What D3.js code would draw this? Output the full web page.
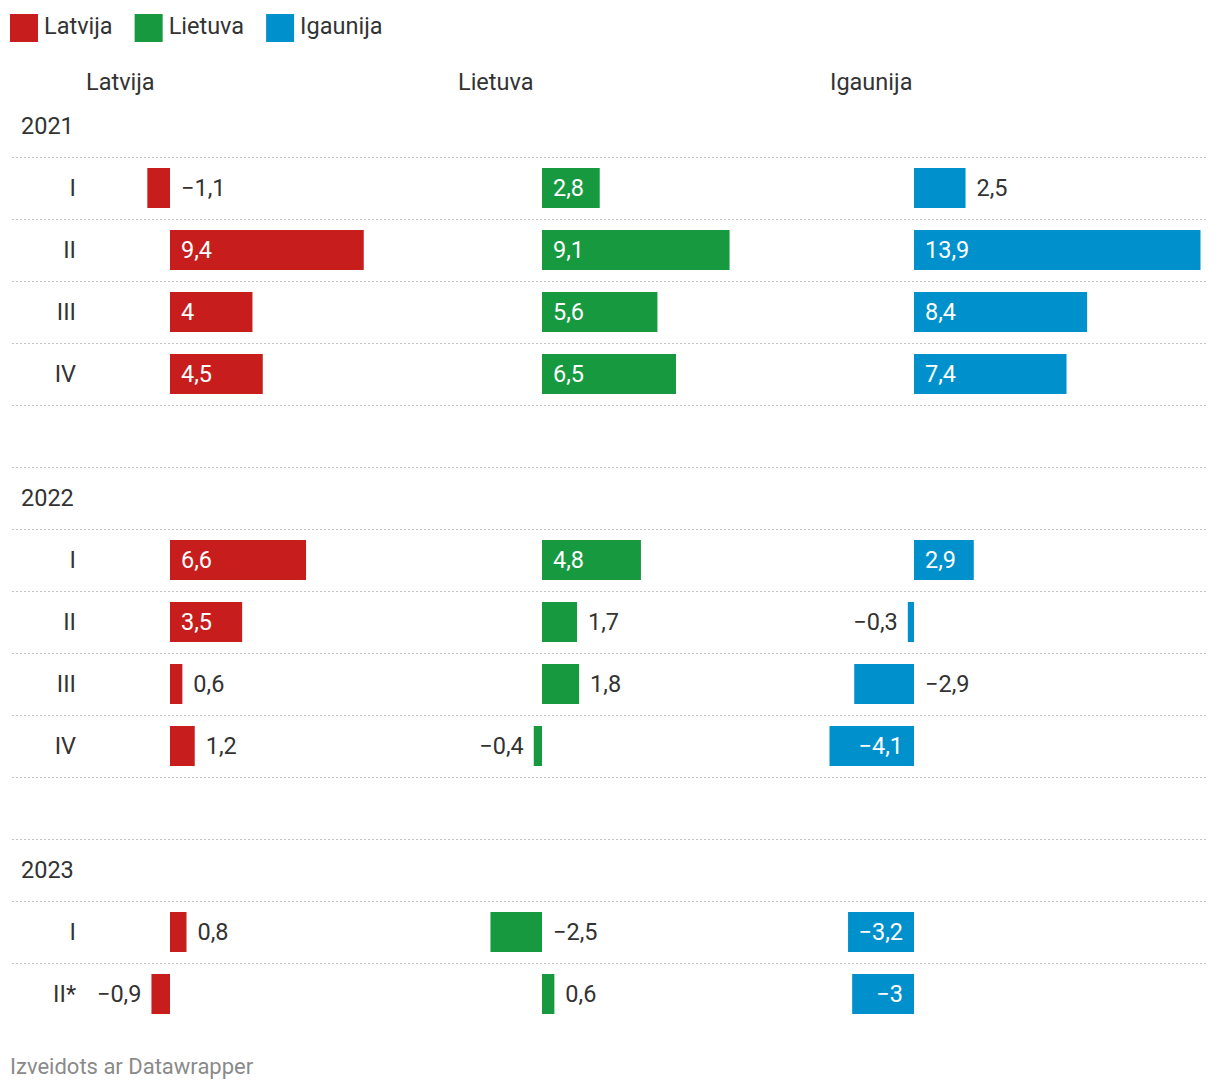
<!DOCTYPE html>
<html>
<head>
<meta charset="utf-8">
<script src="https://cdn.jsdelivr.net/npm/d3@7"></script>
<style>
  html, body { margin: 0; padding: 0; background: #fff; }
  svg { display: block; font-family: Roboto, "Noto Sans", sans-serif; }
</style>
</head>
<body>
<svg id="chart" width="1220" height="1092"></svg>
<script>
// ---- data ----
const countries = ["Latvija", "Lietuva", "Igaunija"];
const colors = ["#c71e1d", "#16993f", "#0091cc"];
const years = ["2021", "2022", "2023"];
const quarters = [["I", "II", "III", "IV"], ["I", "II", "III", "IV"], ["I", "II*"]];
const latvija  = [-1.1, 9.4, 4, 4.5, 6.6, 3.5, 0.6, 1.2, 0.8, -0.9];
const lietuva  = [2.8, 9.1, 5.6, 6.5, 4.8, 1.7, 1.8, -0.4, -2.5, 0.6];
const igaunija = [2.5, 13.9, 8.4, 7.4, 2.9, -0.3, -2.9, -4.1, -3.2, -3];
const footer = "Izveidots ar Datawrapper";

const series = [latvija, lietuva, igaunija];

const svg = d3.select("#chart");
const textColor = "#333";
const fs = 23.5;
const fmt = d3.formatLocale({decimal: ",", thousands: " ", grouping: [3], currency: ["", ""], minus: "\u2212"}).format(".1~f");

// ---- rows (year headers, quarters, spacers) ----
const rows = [];
let idx = 0;
years.forEach((y, yi) => {
  rows.push({type: "year", key: "y" + y, label: y});
  quarters[yi].forEach(q => {
    rows.push({type: "q", key: y + q, label: q, i: idx});
    idx++;
  });
  if (yi < years.length - 1) rows.push({type: "blank", key: "b" + y});
});

const yScale = d3.scaleBand().domain(rows.map(r => r.key)).range([95, 95 + rows.length * 62]).paddingInner(0);
const barPad = 11;

// ---- columns ----
const allVals = series.flat();
const colStart = 85.5, colStep = 372, colWidth = 371;
const xScales = countries.map((c, ci) =>
  d3.scaleLinear().domain([d3.min(allVals), d3.max(allVals)]).range([colStart + ci * colStep, colStart + ci * colStep + colWidth])
);

// ---- legend ----
const legend = svg.append("g");
let lx = 10;
countries.forEach((c, ci) => {
  legend.append("rect").attr("x", lx).attr("y", 14).attr("width", 28).attr("height", 28).attr("fill", colors[ci]);
  const t = legend.append("text").attr("x", lx + 34).attr("y", 34)
    .attr("font-size", fs).attr("fill", textColor).text(c);
  lx = lx + 34 + t.node().getComputedTextLength() + 22;
});

// ---- column headers ----
countries.forEach((c, ci) => {
  svg.append("text").attr("x", xScales[ci].range()[0] + 0.5).attr("y", 90)
    .attr("font-size", fs).attr("fill", textColor).text(c);
});

// ---- row separators ----
const seps = rows.slice(0, rows.length - 1);
svg.append("g").selectAll("line").data(seps).join("line")
  .attr("x1", 12).attr("x2", 1208)
  .attr("y1", d => yScale(d.key) + yScale.bandwidth() + 0.5)
  .attr("y2", d => yScale(d.key) + yScale.bandwidth() + 0.5)
  .attr("stroke", "#c4c4c4").attr("stroke-width", 1).attr("stroke-dasharray", "2,2");

// ---- row labels ----
svg.append("g").selectAll("text").data(rows.filter(r => r.type === "year")).join("text")
  .attr("x", 21).attr("y", d => yScale(d.key) + yScale.bandwidth() / 2)
  .attr("dy", "0.36em").attr("font-size", fs).attr("fill", textColor).text(d => d.label);

svg.append("g").selectAll("text").data(rows.filter(r => r.type === "q")).join("text")
  .attr("x", 76).attr("y", d => yScale(d.key) + yScale.bandwidth() / 2)
  .attr("text-anchor", "end").attr("dy", "0.36em").attr("font-size", fs).attr("fill", textColor).text(d => d.label);

// ---- bars and value labels ----
const qRows = rows.filter(r => r.type === "q");
countries.forEach((c, ci) => {
  const x = xScales[ci];
  const g = svg.append("g");
  const data = qRows.map(r => ({row: r, v: series[ci][r.i]}));
  g.selectAll("rect").data(data).join("rect")
    .attr("x", d => Math.min(x(0), x(d.v)))
    .attr("width", d => Math.abs(x(d.v) - x(0)))
    .attr("y", d => yScale(d.row.key) + barPad)
    .attr("height", yScale.bandwidth() - 2 * barPad)
    .attr("fill", colors[ci]);

  data.forEach(d => {
    const cy = yScale(d.row.key) + yScale.bandwidth() / 2;
    const t = g.append("text").attr("y", cy).attr("dy", "0.36em").attr("font-size", fs).text(fmt(d.v));
    const tw = t.node().getComputedTextLength();
    const bw = Math.abs(x(d.v) - x(0));
    const inside = bw - tw >= 21.3;
    if (d.v >= 0) {
      if (inside) t.attr("x", x(0) + 11).attr("fill", "#fff");
      else t.attr("x", x(d.v) + 11).attr("fill", textColor);
    } else {
      if (inside) t.attr("x", x(0) - 11).attr("text-anchor", "end").attr("fill", "#fff");
      else if (Math.abs(d.v) < 1) t.attr("x", x(d.v) - 10).attr("text-anchor", "end").attr("fill", textColor);
      else t.attr("x", x(0) + 11).attr("fill", textColor);
    }
  });
});

// ---- footer ----
svg.append("text").attr("x", 10).attr("y", 1074).attr("font-size", 22).attr("fill", "#8a8a8a").text(footer);
</script>
</body>
</html>
